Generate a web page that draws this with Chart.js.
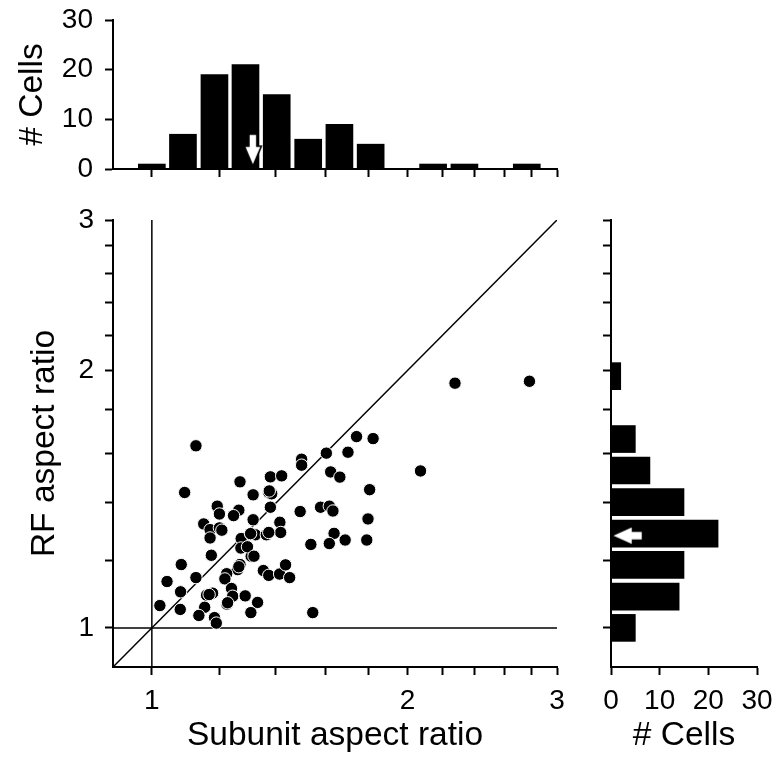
<!DOCTYPE html>
<html>
<head>
<meta charset="utf-8">
<script src="https://cdn.jsdelivr.net/npm/chart.js@4.4.1/dist/chart.umd.min.js"></script>
<style>
  html, body { margin: 0; padding: 0; background: #fff; }
  #wrap { position: relative; width: 777px; height: 760px; }
  #wrap canvas { position: absolute; left: 0; top: 0; }
</style>
</head>
<body>
<div id="wrap">
  <canvas id="main" width="777" height="760"></canvas>
  <canvas id="top" width="777" height="760"></canvas>
  <canvas id="side" width="777" height="760"></canvas>
</div>
<script>
// one entry per cell
const subunitRatio = [
  1.127, 1.093, 1.270, 1.316, 1.379, 1.422, 1.501, 1.501, 1.605, 1.702,
  1.742, 1.822, 1.624, 1.665, 1.805, 2.072, 2.275, 2.784, 1.373, 1.384,
  1.379, 1.194, 1.201, 1.266, 1.248, 1.316, 1.495, 1.580, 1.618, 1.634,
  1.797, 1.151, 1.171, 1.201, 1.171, 1.274, 1.309, 1.324, 1.364, 1.415,
  1.418, 1.639, 1.689, 1.791, 1.539, 1.618, 1.273, 1.175, 1.309, 1.083,
  1.270, 1.262, 1.353, 1.373, 1.414, 1.437, 1.453, 1.225, 1.219, 1.127,
  1.042, 1.081, 1.241, 1.245, 1.179, 1.160, 1.288, 1.332, 1.226, 1.154,
  1.022, 1.080, 1.136, 1.185, 1.191, 1.308, 1.547,
  1.209, 1.307, 1.373, 1.296, 1.319, 1.375, 1.168, 1.228, 1.266
];
const rfRatio = [
  1.633, 1.440, 1.482, 1.431, 1.502, 1.506, 1.575, 1.550, 1.601, 1.605,
  1.674, 1.665, 1.522, 1.501, 1.451, 1.526, 1.933, 1.943, 1.440, 1.435,
  1.384, 1.388, 1.359, 1.373, 1.353, 1.338, 1.368, 1.384, 1.388, 1.370,
  1.341, 1.323, 1.303, 1.309, 1.274, 1.272, 1.286, 1.285, 1.285, 1.329,
  1.293, 1.290, 1.267, 1.267, 1.252, 1.255, 1.240, 1.216, 1.213, 1.186,
  1.186, 1.170, 1.167, 1.152, 1.156, 1.185, 1.145, 1.157, 1.141, 1.145,
  1.133, 1.102, 1.112, 1.089, 1.098, 1.092, 1.090, 1.071, 1.066, 1.057,
  1.062, 1.051, 1.034, 1.028, 1.013, 1.042, 1.042,
  1.301, 1.289, 1.293, 1.244, 1.213, 1.446, 1.094, 1.070, 1.179
];

// histogram bins (log spaced), centres
const binCenters = [1.000, 1.088, 1.185, 1.289, 1.403, 1.528, 1.663, 1.810, 1.970, 2.144, 2.334, 2.540, 2.764];
const subunitCounts = [1, 7, 19, 21, 15, 6, 9, 5, 0, 1, 1, 0, 1];
const rfCounts = [5, 14, 15, 22, 15, 8, 5, 0, 2];

// medians marked by arrows, and the count level the arrows sit at
const medianSubunit = 1.315;
const medianRF = 1.282;
const topArrowLevel = 3.8;
const sideArrowLevel = 3.3;

const ratioMin = 0.9;
const ratioMax = 3;
const ratioTicks = [1, 1.2, 1.4, 1.6, 1.8, 2, 2.2, 2.4, 2.6, 2.8, 3];
const ratioLabelled = [1, 2, 3];
const countMax = 30;
const countStep = 10;

Chart.defaults.font.family = "'Liberation Sans', Arial, sans-serif";
Chart.defaults.color = '#000';

const tickFont = { size: 28 };
const titleFont = { size: 33.5 };

function makeArrow(dir) {
  const c = document.createElement('canvas');
  const ctx = c.getContext('2d');
  if (dir === 'down') {
    c.width = 22; c.height = 36;
    ctx.translate(11, 18);
    ctx.beginPath();
    ctx.moveTo(-4, -16); ctx.lineTo(4, -16); ctx.lineTo(4, -4);
    ctx.lineTo(8.5, -4); ctx.lineTo(0, 16); ctx.lineTo(-8.5, -4);
    ctx.lineTo(-4, -4); ctx.closePath();
  } else {
    c.width = 36; c.height = 24;
    ctx.translate(18, 12);
    ctx.beginPath();
    ctx.moveTo(15.5, -4.5); ctx.lineTo(15.5, 4.5); ctx.lineTo(5.5, 4.5);
    ctx.lineTo(5.5, 9.5); ctx.lineTo(-15.5, 0); ctx.lineTo(5.5, -9.5);
    ctx.lineTo(5.5, -4.5); ctx.closePath();
  }
  ctx.fillStyle = '#fff';
  ctx.fill();
  ctx.lineWidth = 1.6;
  ctx.strokeStyle = '#000';
  ctx.stroke();
  return c;
}

function noPad(s) {
  s.paddingLeft = 0; s.paddingRight = 0; s.paddingTop = 0; s.paddingBottom = 0;
}

const axisGrid = { drawOnChartArea: false, drawTicks: true, offset: false, tickLength: 8, tickWidth: 2, tickColor: '#000' };
const axisBorder = { color: '#000', width: 2 };

function ratioAxis(extra) {
  return Object.assign({
    type: 'logarithmic',
    min: ratioMin,
    max: ratioMax,
    offset: false,
    afterBuildTicks: s => { s.ticks = ratioTicks.map(v => ({ value: v })); },
    ticks: {
      autoSkip: false, maxRotation: 0, minRotation: 0, font: tickFont, color: '#000',
      callback: v => ratioLabelled.includes(v) ? String(v) : ''
    },
    grid: axisGrid,
    border: axisBorder
  }, extra);
}

function countAxis(extra) {
  return Object.assign({
    type: 'linear',
    min: 0,
    max: countMax,
    offset: false,
    grid: axisGrid,
    border: axisBorder
  }, extra);
}

const common = {
  responsive: false,
  animation: false,
  plugins: { legend: { display: false }, tooltip: { enabled: false } }
};

// scatter of RF vs subunit aspect ratio
const refLine = { showLine: true, borderColor: '#000', borderWidth: 1.5, pointRadius: 0, order: 1 };
new Chart(document.getElementById('main'), {
  type: 'scatter',
  data: {
    datasets: [
      {
        data: subunitRatio.map((x, i) => ({ x: x, y: rfRatio[i] })),
        pointRadius: 6.2, pointBackgroundColor: '#000', pointBorderColor: '#fff', pointBorderWidth: 1,
        order: 0
      },
      Object.assign({ data: [{ x: ratioMin, y: ratioMin }, { x: ratioMax, y: ratioMax }] }, refLine),
      Object.assign({ data: [{ x: 1, y: ratioMin }, { x: 1, y: ratioMax }] }, refLine),
      Object.assign({ data: [{ x: ratioMin, y: 1 }, { x: ratioMax, y: 1 }] }, refLine)
    ]
  },
  options: Object.assign({}, common, {
    layout: { padding: { left: 0, top: 220, right: 220, bottom: 0 } },
    scales: {
      x: ratioAxis({
        position: 'bottom',
        ticks: {
          autoSkip: false, maxRotation: 0, minRotation: 0, font: tickFont, color: '#000', padding: 9,
          callback: v => ratioLabelled.includes(v) ? String(v) : ''
        },
        title: { display: true, text: 'Subunit aspect ratio', font: titleFont, color: '#000', padding: { top: 0, bottom: 4 } },
        afterFit: s => { s.height = 93; noPad(s); }
      }),
      y: ratioAxis({
        position: 'left',
        ticks: {
          autoSkip: false, font: tickFont, color: '#000', padding: 11,
          callback: v => ratioLabelled.includes(v) ? String(v) : ''
        },
        title: { display: true, text: 'RF aspect ratio', font: titleFont, color: '#000', padding: { top: 25, bottom: 0 } },
        afterFit: s => { s.width = 113; noPad(s); }
      })
    }
  })
});

// top histogram: subunit aspect ratio
new Chart(document.getElementById('top'), {
  type: 'bar',
  data: {
    datasets: [
      {
        type: 'bar',
        data: binCenters.map((x, i) => ({ x: x, y: subunitCounts[i] })),
        backgroundColor: '#000', barThickness: 27, order: 1
      },
      {
        type: 'scatter',
        data: [{ x: medianSubunit, y: topArrowLevel }],
        pointStyle: makeArrow('down'), order: 0
      }
    ]
  },
  options: Object.assign({}, common, {
    layout: { padding: { left: 0, top: 20, right: 220, bottom: 581 } },
    scales: {
      x: ratioAxis({
        position: 'bottom',
        ticks: { display: false },
        afterFit: s => { s.height = 10; noPad(s); }
      }),
      y: countAxis({
        position: 'left',
        ticks: { stepSize: countStep, font: tickFont, color: '#000', padding: 12 },
        title: { display: true, text: '# Cells', font: titleFont, color: '#000', padding: { top: 13, bottom: 0 } },
        afterFit: s => { s.width = 113; noPad(s); }
      })
    }
  })
});

// side histogram: RF aspect ratio
new Chart(document.getElementById('side'), {
  type: 'bar',
  data: {
    datasets: [
      {
        type: 'bar', indexAxis: 'y',
        data: rfCounts.map((c, i) => ({ x: c, y: binCenters[i] })),
        backgroundColor: '#000', barThickness: 27, order: 1
      },
      {
        type: 'scatter',
        data: [{ x: sideArrowLevel, y: medianRF }],
        pointStyle: makeArrow('left'), order: 0
      }
    ]
  },
  options: Object.assign({}, common, {
    layout: { padding: { left: 0, top: 220, right: 20, bottom: 0 } },
    scales: {
      x: countAxis({
        position: 'bottom',
        ticks: { stepSize: countStep, font: tickFont, color: '#000', padding: 9, maxRotation: 0, autoSkip: false },
        title: { display: true, text: '# Cells', font: titleFont, color: '#000', padding: { top: 0, bottom: 4 } },
        afterFit: s => { s.height = 93; noPad(s); }
      }),
      y: ratioAxis({
        position: 'left',
        ticks: { display: false },
        afterFit: s => { s.width = 611; noPad(s); }
      })
    }
  })
});
</script>
</body>
</html>
